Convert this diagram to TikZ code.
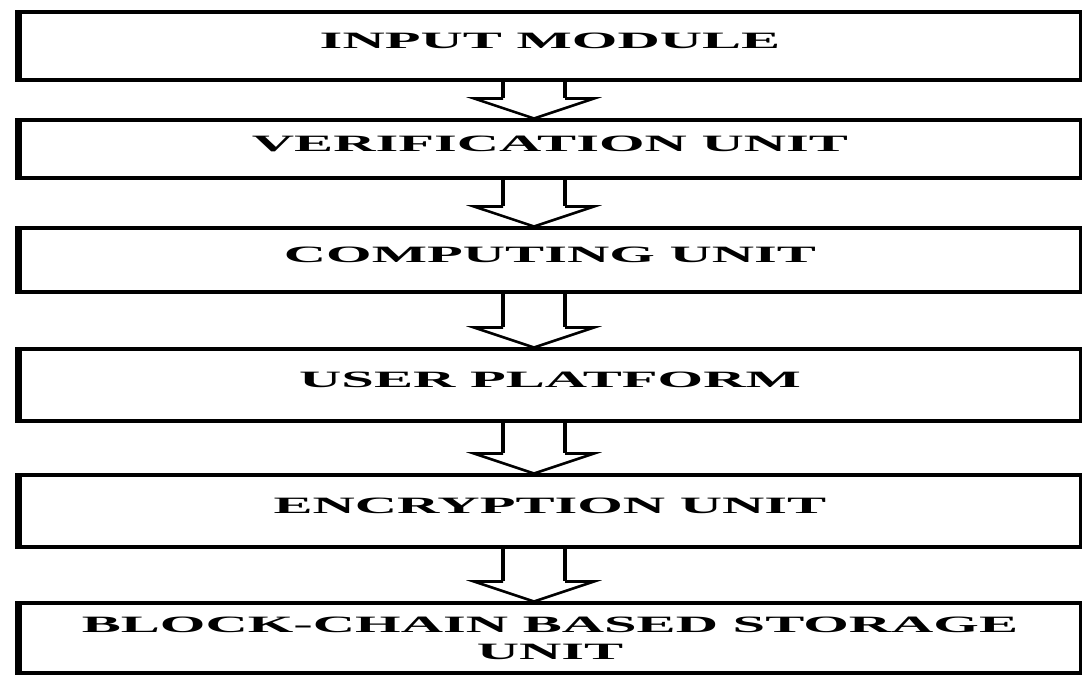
\documentclass[tikz,border=0pt]{standalone}
\usepackage{fontspec}
\setmainfont{Liberation Serif}
\usetikzlibrary{calc}
\newcommand{\wide}[1]{\scalebox{2.5}[1]{#1}}

\begin{document}
\begin{tikzpicture}[x=0.03cm, y=-0.03cm,
    unitbox/.style={draw, line width=2.6pt, minimum width=31.8cm, inner sep=0pt,
        font=\fontsize{20}{23}\selectfont\bfseries, align=center},
    lift/.style={text height=13.5pt, text depth=9pt},
    shaft/.style={line width=3.6pt},
    hollow/.style={line width=2.2pt, line join=miter}]
    \useasboundingbox (0,0) rectangle (1082,675);
    \fill[white] (0,0) rectangle (1082,675);

    % Units
    \node[unitbox, lift, minimum height=2.04cm] (input) at (550,46) {\wide{INPUT MODULE}};
    \node[unitbox, lift, minimum height=1.74cm] (verify) at (550,149) {\wide{VERIFICATION UNIT}};
    \node[unitbox, lift, minimum height=1.92cm] (compute) at (550,260) {\wide{COMPUTING UNIT}};
    \node[unitbox, lift, minimum height=2.16cm] (user) at (550,385) {\wide{USER PLATFORM}};
    \node[unitbox, lift, minimum height=2.16cm] (encrypt) at (550,511) {\wide{ENCRYPTION UNIT}};
    \node[unitbox, minimum height=2.1cm] (storage) at (550,638)
        {\wide{BLOCK-CHAIN BASED STORAGE}\\\wide{UNIT}};

    % Heavy left edges
    \foreach \b in {input,verify,compute,user,encrypt,storage}
        \draw[line width=6pt] (\b.north west) -- (\b.south west);

    % Hollow arrows between units
    \foreach \a/\b in {input/verify,verify/compute,compute/user,user/encrypt,encrypt/storage}{
        \draw[shaft] ($(\a.south)+(-47,0)$) -- ($(\b.north)+(-47,-20)$);
        \draw[shaft] ($(\a.south)+(15,0)$) -- ($(\b.north)+(15,-20)$);
        \draw[hollow] ($(\b.north)+(-47,-20)$) -- ($(\b.north)+(-76,-20)$)
            -- ($(\b.north)+(-16,0)$) -- ($(\b.north)+(44,-20)$)
            -- ($(\b.north)+(15,-20)$);
    }
\end{tikzpicture}
\end{document}
